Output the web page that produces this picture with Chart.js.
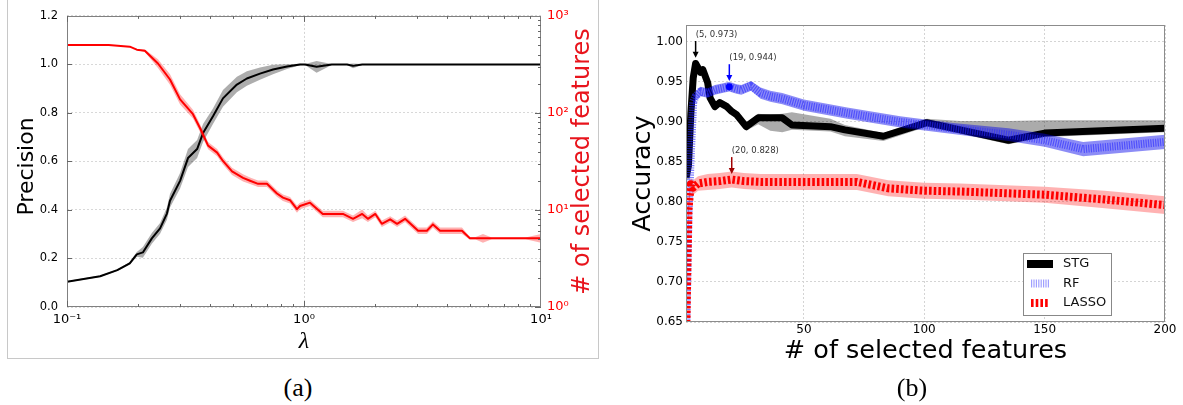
<!DOCTYPE html>
<html>
<head>
<meta charset="utf-8">
<title>STG feature selection</title>
<script src="https://cdn.jsdelivr.net/npm/chart.js@4.4.1/dist/chart.umd.min.js"></script>
<style>
  body { margin: 0; background: #fff; }
  #page { position: relative; width: 1183px; height: 405px; overflow: hidden; }
  #boxA { position: absolute; left: 7px; top: -1px; width: 590px; height: 358px; border: 1px solid #c8c8c8; }
  #cA { position: absolute; left: 0; top: 0; }
  #cB { position: absolute; left: 610px; top: 0; }
  .cap { position: absolute; top: 373px; width: 60px; text-align: center;
         font-family: "Liberation Serif", serif; font-size: 26px; line-height: 30px; }
</style>
</head>
<body>
<div id="page">
  <div id="boxA"></div>
  <canvas id="cA" width="600" height="360"></canvas>
  <canvas id="cB" width="573" height="405"></canvas>
  <div class="cap" style="left:268px">(a)</div>
  <div class="cap" style="left:882px">(b)</div>
</div>
<script>
Chart.defaults.font.family = "'DejaVu Sans', sans-serif"
Chart.defaults.color = '#000'

// ---------- (a) precision / number of selected features vs lambda
const precLambda = [0.100, 0.138, 0.163, 0.184, 0.197, 0.209, 0.228, 0.247, 0.264, 0.272, 0.300, 0.324, 0.354, 0.375,
                    0.413, 0.455, 0.521, 0.574, 0.652, 0.740, 0.848, 0.962, 1.01, 1.13, 1.31, 1.52, 1.61, 1.76, 10]
const precMean   = [0.104, 0.127, 0.152, 0.180, 0.217, 0.225, 0.283, 0.324, 0.385, 0.438, 0.520, 0.614, 0.651, 0.717,
                    0.786, 0.860, 0.917, 0.942, 0.962, 0.979, 0.991, 1.0, 1.0, 0.99, 1.0, 1.0, 0.994, 1.0, 1.0]
const precSpread = [0.003, 0.003, 0.004, 0.005, 0.010, 0.022, 0.022, 0.022, 0.025, 0.028, 0.032, 0.037, 0.037, 0.037,
                    0.032, 0.035, 0.032, 0.030, 0.025, 0.020, 0.010, 0.003, 0.002, 0.024, 0.002, 0.002, 0.010, 0.002, 0.002]

const featLambda = [0.100, 0.150, 0.184, 0.197, 0.213, 0.242, 0.272, 0.300, 0.340, 0.364, 0.394, 0.430, 0.455, 0.497,
                    0.553, 0.592, 0.640, 0.698, 0.769, 0.815, 0.873, 0.934, 0.962, 1.06, 1.20, 1.46, 1.61, 1.76, 1.86,
                    2.00, 2.13, 2.31, 2.47, 2.67, 3.03, 3.30, 3.50, 3.75, 4.64, 5.01, 5.30, 5.69, 6.20, 8.60, 10]
const featMean   = [502, 500, 482, 449, 438, 323, 221, 138, 97, 70, 46, 39, 32, 25,
                    21.4, 20, 18.6, 18.6, 14.8, 13.4, 12.6, 10.2, 11, 11.9, 9.1, 9.1, 8.1, 9.1, 8.1,
                    9.1, 7.2, 8, 7.2, 8.1, 6.1, 6.1, 7.1, 6.1, 6.1, 5.1, 5.1, 5.1, 5.1, 5.1, 5.1]
// band as a multiplicative factor (log axis)
const featSpread = [1.0, 1.0, 1.0, 1.01, 1.03, 1.11, 1.13, 1.13, 1.11, 1.10, 1.09, 1.09, 1.09, 1.09,
                    1.09, 1.08, 1.08, 1.08, 1.08, 1.08, 1.08, 1.09, 1.08, 1.08, 1.08, 1.08, 1.08, 1.11, 1.08,
                    1.08, 1.08, 1.08, 1.08, 1.08, 1.08, 1.08, 1.08, 1.08, 1.08, 1.03, 1.03, 1.11, 1.02, 1.02, 1.11]

const lambdaTicks = [0.1, 1, 10]
const lambdaLabels = ['10⁻¹', '10⁰', '10¹']
const featTicks = [1, 10, 100, 1000]
const featLabels = ['10⁰', '10¹', '10²', '10³']

// ---------- (b) accuracy vs number of selected features
const stgN    = [1, 2, 3, 4, 5, 7, 8, 10, 11, 13, 15, 18, 20, 22, 26, 31, 36, 41, 45, 61, 67, 83, 101, 115, 135, 150, 200]
const stgMean = [0.83, 0.845, 0.91, 0.955, 0.973, 0.962, 0.965, 0.949, 0.930, 0.919, 0.924, 0.919, 0.913, 0.909, 0.894,
                 0.905, 0.905, 0.905, 0.896, 0.894, 0.890, 0.882, 0.899, 0.890, 0.877, 0.886, 0.892]
const stgLo   = [0.82, 0.835, 0.90, 0.95, 0.968, 0.957, 0.96, 0.944, 0.925, 0.914, 0.919, 0.914, 0.908, 0.904, 0.889,
                 0.897, 0.889, 0.887, 0.890, 0.888, 0.882, 0.876, 0.894, 0.885, 0.872, 0.881, 0.887]
const stgHi   = [0.84, 0.855, 0.92, 0.96, 0.978, 0.967, 0.97, 0.954, 0.935, 0.924, 0.929, 0.924, 0.918, 0.914, 0.899,
                 0.910, 0.909, 0.910, 0.912, 0.904, 0.896, 0.886, 0.904, 0.901, 0.901, 0.902, 0.902]

const rfN      = [1, 2, 3, 4, 5, 7, 10, 13, 16, 19, 22, 24, 28, 32, 36, 41, 50, 68, 90, 111, 135, 150, 166, 200]
const rfMean   = [0.62, 0.78, 0.86, 0.925, 0.932, 0.938, 0.936, 0.940, 0.942, 0.944, 0.941, 0.940, 0.945, 0.936,
                  0.932, 0.929, 0.921, 0.911, 0.900, 0.892, 0.884, 0.877, 0.866, 0.875]
const rfSpread = [0.010, 0.010, 0.008, 0.006, 0.006, 0.006, 0.006, 0.006, 0.006, 0.006, 0.006, 0.006, 0.006, 0.007,
                  0.007, 0.007, 0.007, 0.007, 0.007, 0.007, 0.008, 0.008, 0.009, 0.009]

const lassoN      = [1, 2, 3, 4, 6, 10, 15, 20, 25, 32, 41, 55, 72, 85, 100, 115, 150, 175, 200]
const lassoMean   = [0.62, 0.79, 0.822, 0.818, 0.823, 0.825, 0.826, 0.828, 0.826, 0.825, 0.825, 0.825, 0.825,
                     0.817, 0.814, 0.813, 0.809, 0.803, 0.796]
const lassoSpread = [0.005, 0.005, 0.008, 0.009, 0.009, 0.010, 0.010, 0.010, 0.010, 0.010, 0.010, 0.010, 0.010,
                     0.010, 0.010, 0.010, 0.010, 0.011, 0.011]

const nTicks = [50, 100, 150, 200]
const accTicks = [0.65, 0.70, 0.75, 0.80, 0.85, 0.90, 0.95, 1.00]

const peakN = [5, 19, 20]
const peakAcc = [0.973, 0.944, 0.828]
const peakColors = ['#000000', '#0000ff', '#a00000']

const seriesNames = ['STG', 'RF', 'LASSO']

// ---------- helpers
const xy = (xs, ys) => xs.map((x, i) => ({x: x, y: ys[i]}))

function bandSets(xs, lo, hi, color, order, axis) {
    return [
        {data: xy(xs, hi), fill: '+1', backgroundColor: color, borderWidth: 0, pointRadius: 0, order: order, yAxisID: axis, clip: 0},
        {data: xy(xs, lo), fill: false, borderWidth: 0, pointRadius: 0, order: order, yAxisID: axis, clip: 0}
    ]
}

const fixedTicks = (list) => (scale) => { scale.ticks = list.map(v => ({value: v})) }

const framePlugin = {
    id: 'frame',
    afterDraw(chart, args, opts) {
        const {ctx, chartArea: a} = chart
        ctx.save()
        ctx.strokeStyle = opts.color
        ctx.lineWidth = 1
        ctx.strokeRect(Math.round(a.left) + 0.5, Math.round(a.top) + 0.5,
                       Math.round(a.right - a.left) - 1, Math.round(a.bottom - a.top) - 1)
        ctx.restore()
    }
}

// inward tick marks of the matplotlib style axes in (a)
const ticksA = {
    id: 'ticksA',
    afterDraw(chart) {
        const {ctx, chartArea: a, scales} = chart
        ctx.save()
        ctx.strokeStyle = '#666'
        ctx.lineWidth = 1
        ctx.beginPath()
        for (let k = -1; k < 1; k++) {
            for (let m = 1; m < 10; m++) {
                const px = Math.round(scales.x.getPixelForValue(m * Math.pow(10, k))) + 0.5
                const len = m == 1 ? 6 : 3
                ctx.moveTo(px, a.bottom); ctx.lineTo(px, a.bottom - len)
                ctx.moveTo(px, a.top); ctx.lineTo(px, a.top + len)
            }
        }
        for (let k = 0; k < 3; k++) {
            for (let m = 1; m < 10; m++) {
                const py = Math.round(scales.y2.getPixelForValue(m * Math.pow(10, k))) + 0.5
                const len = m == 1 ? 6 : 3
                ctx.moveTo(a.right, py); ctx.lineTo(a.right - len, py)
            }
        }
        for (let v = 0.2; v < 1.2; v += 0.2) {
            const py = Math.round(scales.y.getPixelForValue(v)) + 0.5
            ctx.moveTo(a.left, py); ctx.lineTo(a.left + 5, py)
        }
        ctx.stroke()
        ctx.restore()
    }
}

const titlesA = {
    id: 'titlesA',
    afterDraw(chart) {
        const {ctx, chartArea: a} = chart
        const midY = (a.top + a.bottom) / 2
        ctx.save()
        ctx.textAlign = 'center'
        ctx.textBaseline = 'alphabetic'
        ctx.fillStyle = '#000'
        ctx.font = "22px 'DejaVu Sans'"
        ctx.save(); ctx.translate(33, midY + 5); ctx.rotate(-Math.PI / 2); ctx.fillText('Precision', 0, 0); ctx.restore()
        ctx.fillStyle = '#e8141c'
        ctx.font = "24px 'DejaVu Sans'"
        ctx.save(); ctx.translate(589, midY); ctx.rotate(-Math.PI / 2); ctx.fillText('# of selected features', 0, 0); ctx.restore()
        ctx.fillStyle = '#000'
        ctx.font = "italic 24px 'Liberation Serif'"
        ctx.fillText('λ', (a.left + a.right) / 2, 348)
        ctx.restore()
    }
}

const titlesB = {
    id: 'titlesB',
    afterDraw(chart) {
        const {ctx, chartArea: a} = chart
        ctx.save()
        ctx.textAlign = 'center'
        ctx.textBaseline = 'alphabetic'
        ctx.fillStyle = '#000'
        ctx.font = "25.5px 'DejaVu Sans'"
        ctx.save(); ctx.translate(40, (a.top + a.bottom) / 2); ctx.rotate(-Math.PI / 2); ctx.fillText('Accuracy', 0, 0); ctx.restore()
        ctx.fillText('# of selected features', (a.left + a.right) / 2, 358)
        ctx.restore()
    }
}

// arrows pointing to the best accuracy of each method
const peaksB = {
    id: 'peaksB',
    afterDatasetsDraw(chart) {
        const {ctx, scales} = chart
        ctx.save()
        ctx.font = "8.5px 'DejaVu Sans'"
        ctx.textAlign = 'left'
        ctx.textBaseline = 'alphabetic'
        for (let i = 0; i < peakN.length; i++) {
            const px = scales.x.getPixelForValue(peakN[i])
            const yText = scales.y.getPixelForValue(peakAcc[i] + 0.033)
            const yTop = scales.y.getPixelForValue(peakAcc[i] + 0.028)
            const yTip = scales.y.getPixelForValue(peakAcc[i] + 0.007)
            ctx.fillStyle = '#333'
            ctx.fillText(`(${peakN[i]}, ${peakAcc[i].toFixed(3)})`, px, yText)
            ctx.strokeStyle = peakColors[i]
            ctx.fillStyle = peakColors[i]
            ctx.lineWidth = 1.5
            ctx.beginPath(); ctx.moveTo(px, yTop); ctx.lineTo(px, yTip - 5); ctx.stroke()
            ctx.beginPath(); ctx.moveTo(px - 3, yTip - 6); ctx.lineTo(px + 3, yTip - 6); ctx.lineTo(px, yTip); ctx.closePath(); ctx.fill()
        }
        ctx.restore()
    }
}

const legendB = {
    id: 'legendB',
    afterDraw(chart) {
        const {ctx, chartArea: a} = chart
        const L = a.right - 142, T = a.bottom - 69
        ctx.save()
        ctx.fillStyle = '#fff'
        ctx.fillRect(L, T, 88, 62)
        ctx.strokeStyle = '#888'
        ctx.lineWidth = 1
        ctx.strokeRect(L + 0.5, T + 0.5, 88, 62)
        const rows = [
            {color: '#000', width: 8, dash: [], x0: 4, x1: 30},
            {color: 'rgba(80,80,255,0.55)', width: 8, dash: [1.2, 1.2], x0: 8, x1: 26},
            {color: '#ff0000', width: 8, dash: [2.6, 2.1], x0: 8, x1: 26}
        ]
        ctx.font = "13px 'DejaVu Sans'"
        ctx.textBaseline = 'middle'
        ctx.textAlign = 'left'
        rows.forEach((r, i) => {
            const cy = T + 11 + i * 19.5
            ctx.strokeStyle = r.color
            ctx.lineWidth = r.width
            ctx.setLineDash(r.dash)
            ctx.beginPath(); ctx.moveTo(L + r.x0, cy); ctx.lineTo(L + r.x1, cy); ctx.stroke()
            ctx.setLineDash([])
            ctx.fillStyle = '#111'
            ctx.fillText(seriesNames[i], L + 40, cy)
        })
        ctx.restore()
    }
}

// ---------- chart (a)
const precLo = precMean.map((v, i) => v - precSpread[i])
const precHi = precMean.map((v, i) => v + precSpread[i])
const featLo = featMean.map((v, i) => v / featSpread[i])
const featHi = featMean.map((v, i) => v * featSpread[i])

const gridDash = {display: false, dash: [2, 2]}

new Chart(document.getElementById('cA'), {
    type: 'line',
    data: {
        datasets: [
            ...bandSets(precLambda, precLo, precHi, 'rgba(0,0,0,0.32)', 6, 'y'),
            {data: xy(precLambda, precMean), borderColor: '#000', borderWidth: 2, pointRadius: 0, fill: false, order: 5, yAxisID: 'y', clip: 0},
            ...bandSets(featLambda, featLo, featHi, 'rgba(255,0,0,0.3)', 4, 'y2'),
            {data: xy(featLambda, featMean), borderColor: '#ff0000', borderWidth: 2, pointRadius: 0, fill: false, order: 3, yAxisID: 'y2', clip: 0}
        ]
    },
    options: {
        responsive: false,
        animation: false,
        layout: {padding: {top: 14}},
        elements: {line: {tension: 0, borderJoinStyle: 'round'}},
        plugins: {legend: {display: false}, tooltip: {enabled: false}, frame: {color: '#808080'}},
        scales: {
            x: {
                type: 'logarithmic', min: 0.1, max: 10,
                afterBuildTicks: fixedTicks(lambdaTicks),
                afterFit: s => { s.height = 53 },
                ticks: {autoSkip: false, maxRotation: 0, padding: 5, font: {size: 13}, color: '#000',
                        callback: (v, i) => lambdaLabels[i]},
                grid: {drawTicks: false, color: c => (c.tick && c.tick.value == 1) ? '#d4d4d4' : 'rgba(0,0,0,0)'},
                border: gridDash
            },
            y: {
                position: 'left', min: 0, max: 1.2,
                afterFit: s => { s.width = 67 },
                ticks: {stepSize: 0.2, padding: 9, font: {size: 11.5}, color: '#000', callback: v => v.toFixed(1)},
                grid: {drawTicks: false, color: '#d8d8d8'},
                border: gridDash
            },
            y2: {
                type: 'logarithmic', position: 'right', min: 1, max: 1000,
                afterBuildTicks: fixedTicks(featTicks),
                afterFit: s => { s.width = 59 },
                ticks: {autoSkip: false, padding: 6, font: {size: 13}, color: '#ff0000',
                        callback: (v, i) => featLabels[i]},
                grid: {drawTicks: false, drawOnChartArea: false},
                border: {display: false}
            }
        }
    },
    plugins: [framePlugin, ticksA, titlesA]
})

// ---------- chart (b)
const rfLo = rfMean.map((v, i) => v - rfSpread[i])
const rfHi = rfMean.map((v, i) => v + rfSpread[i])
const lassoLo = lassoMean.map((v, i) => v - lassoSpread[i])
const lassoHi = lassoMean.map((v, i) => v + lassoSpread[i])

new Chart(document.getElementById('cB'), {
    type: 'line',
    data: {
        datasets: [
            ...bandSets(stgN, stgLo, stgHi, 'rgba(0,0,0,0.33)', 9, 'y'),
            {data: xy(stgN, stgMean), borderColor: '#000', borderWidth: 7, pointRadius: 0, fill: false, order: 8, clip: 0},
            ...bandSets(rfN, rfLo, rfHi, 'rgba(0,0,235,0.45)', 7, 'y'),
            {data: xy(rfN, rfMean), borderColor: 'rgba(40,40,255,0.6)', borderWidth: 8, borderDash: [1.2, 1.2], borderCapStyle: 'butt',
             pointRadius: c => rfN[c.dataIndex] == 19 ? 3.5 : 0, pointBackgroundColor: '#0000ff', pointBorderWidth: 0,
             fill: false, order: 6, clip: 0},
            ...bandSets(lassoN, lassoLo, lassoHi, 'rgba(255,0,0,0.3)', 5, 'y'),
            {data: xy(lassoN, lassoMean), borderColor: '#ff0000', borderWidth: 8, borderDash: [2.6, 2.1], borderCapStyle: 'butt',
             pointRadius: 0, fill: false, order: 4, clip: 0}
        ]
    },
    options: {
        responsive: false,
        animation: false,
        layout: {padding: {top: 25, right: 18}},
        elements: {line: {tension: 0, borderJoinStyle: 'round'}},
        plugins: {legend: {display: false}, tooltip: {enabled: false}, frame: {color: '#8c8c8c'}},
        scales: {
            x: {
                type: 'linear', min: 1, max: 200,
                afterBuildTicks: fixedTicks(nTicks),
                afterFit: s => { s.height = 83 },
                ticks: {autoSkip: false, maxRotation: 0, padding: 1, font: {size: 12}, color: '#000', callback: v => String(v)},
                grid: {drawTicks: false, color: '#d4d4d4'},
                border: gridDash
            },
            y: {
                min: 0.65, max: 1.021,
                afterBuildTicks: fixedTicks(accTicks),
                afterFit: s => { s.width = 76 },
                ticks: {autoSkip: false, padding: 3, font: {size: 12}, color: '#000', callback: v => v.toFixed(2)},
                grid: {drawTicks: false, color: '#d4d4d4'},
                border: gridDash
            }
        }
    },
    plugins: [framePlugin, peaksB, legendB, titlesB]
})
</script>
</body>
</html>
